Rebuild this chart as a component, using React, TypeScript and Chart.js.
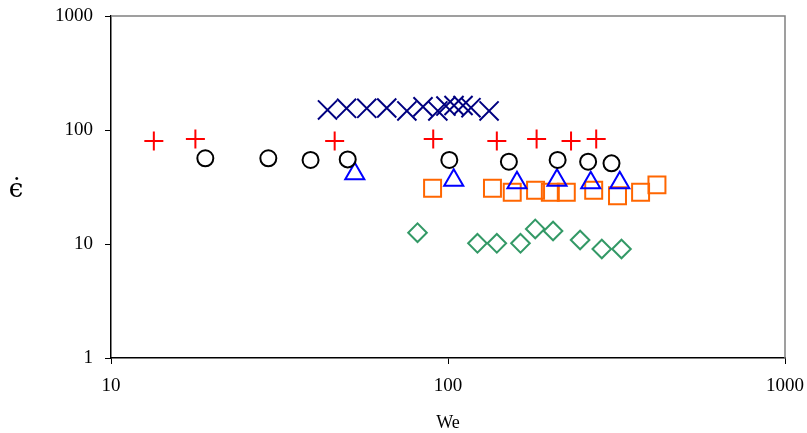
import React, { useEffect, useRef } from "react";
import { Chart, registerables } from "chart.js";

Chart.register(...registerables);

// Red plus series
const plusWe = [13.4, 17.8, 46.1, 90.4, 139.6, 183.2, 231.8, 275.3];
const plusEps = [80, 83.5, 80, 83.5, 80, 83.5, 80, 83.5];

// Black circle series
const circleWe = [19.05, 29.3, 39.1, 50.4, 100.9, 151.6, 211.5, 260.5, 305.6];
const circleEps = [56.5, 56.5, 54.6, 55.2, 54.6, 52.7, 54.6, 52.7, 51.0];

// Blue triangle series
const triWe = [52.9, 104, 160.2, 210.6, 265.2, 323.4];
const triEps = [41.4, 36.2, 34.5, 36.2, 34.5, 34.5];

// Orange square series
const squareWe = [90.0, 135.5, 155.1, 181.9, 201.2, 224.4, 270.6, 318.4, 372.8, 416.9];
const squareEps = [30.8, 30.8, 28.4, 29.6, 28.4, 28.4, 29.6, 26.5, 28.4, 33.0];

// Green diamond series
const diamondWe = [81.2, 122.3, 139.6, 164.1, 181.5, 205, 246.6, 286, 327.2];
const diamondEps = [12.56, 10.14, 10.14, 10.14, 13.55, 13.0, 10.84, 9.04, 9.04];

// Navy X series
const xWe = [43.9, 50.0, 57.4, 65.8, 75.5, 84.3, 93.3, 98.6, 104.2, 110.8, 117.0, 132.4];
const xEps = [150, 155, 155, 156, 147, 160, 147, 162, 164, 164, 157, 147];

const xTicks = [10, 100, 1000];
const yTicks = [1, 10, 100, 1000];
const xTitle = "We";
const yTitle = "\u03F5\u0307";

const pts = (xs: number[], ys: number[]) => xs.map((x, i) => ({ x, y: ys[i] }));

const SERIF = "'Liberation Serif', 'Times New Roman', serif";

const decorPlugin = {
  id: "decor",
  afterDraw(chart: any) {
    const { ctx, chartArea } = chart;
    ctx.save();
    // gray frame top & right
    ctx.strokeStyle = "#808080";
    ctx.lineWidth = 1.5;
    ctx.beginPath();
    ctx.moveTo(chartArea.left, chartArea.top);
    ctx.lineTo(chartArea.right, chartArea.top);
    ctx.lineTo(chartArea.right, chartArea.bottom);
    ctx.stroke();
    // titles
    ctx.fillStyle = "#000";
    ctx.textAlign = "center";
    ctx.textBaseline = "middle";
    ctx.font = `18px ${SERIF}`;
    ctx.fillText(xTitle, (chartArea.left + chartArea.right) / 2, 423);
    ctx.font = `26px 'DejaVu Serif', serif`;
    ctx.textBaseline = "alphabetic";
    ctx.fillText(yTitle, 16, 197);
    ctx.restore();
  },
};

export default function App() {
  const ref = useRef<HTMLCanvasElement>(null);
  useEffect(() => {
    if (!ref.current) return;
    const common = { showLine: false, backgroundColor: "rgba(0,0,0,0)" };
    const chart = new Chart(ref.current, {
      type: "scatter",
      data: {
        datasets: [
          { ...common, label: "x", data: pts(xWe, xEps), pointStyle: "crossRot", pointRadius: 13.5, borderColor: "#000080", borderWidth: 2 },
          { ...common, label: "plus", data: pts(plusWe, plusEps), pointStyle: "cross", pointRadius: 9.5, borderColor: "#FF0000", borderWidth: 2 },
          { ...common, label: "circle", data: pts(circleWe, circleEps), pointStyle: "circle", pointRadius: 8, borderColor: "#000000", borderWidth: 2 },
          { ...common, label: "tri", data: pts(triWe, triEps), pointStyle: "triangle", pointRadius: 11, borderColor: "#0000FF", borderWidth: 2 },
          { ...common, label: "square", data: pts(squareWe, squareEps), pointStyle: "rect", pointRadius: 12, borderColor: "#FF6600", borderWidth: 2 },
          { ...common, label: "diamond", data: pts(diamondWe, diamondEps), pointStyle: "rectRot", pointRadius: 9.3, borderColor: "#339966", borderWidth: 2 },
        ],
      },
      options: {
        responsive: false,
        animation: false,
        layout: { padding: { left: 0, top: 16, right: 22, bottom: 0 } },
        plugins: { legend: { display: false }, tooltip: { enabled: false } },
        scales: {
          x: {
            type: "logarithmic",
            min: 10,
            max: 1000,
            afterBuildTicks: (s: any) => { s.ticks = xTicks.map((v) => ({ value: v })); },
            afterFit: (s: any) => { s.height = 75; s.paddingLeft = 0; s.paddingRight = 0; },
            ticks: {
              color: "#000",
              font: { family: SERIF, size: 19 },
              padding: 11,
              maxRotation: 0,
              autoSkip: false,
              callback: (v: any) => String(v),
            },
            grid: { drawOnChartArea: false, drawTicks: true, tickLength: 6, color: "#000", lineWidth: 1 },
            border: { display: true, color: "#000", width: 1.5 },
          },
          y: {
            type: "logarithmic",
            min: 1,
            max: 1000,
            afterBuildTicks: (s: any) => { s.ticks = yTicks.map((v) => ({ value: v })); },
            afterFit: (s: any) => { s.width = 111; s.paddingTop = 0; s.paddingBottom = 0; },
            ticks: {
              color: "#000",
              font: { family: SERIF, size: 19 },
              padding: 12,
              autoSkip: false,
              callback: (v: any) => String(v),
            },
            grid: { drawOnChartArea: false, drawTicks: true, tickLength: 6, color: "#000", lineWidth: 1 },
            border: { display: true, color: "#000", width: 1.5 },
          },
        },
      },
      plugins: [decorPlugin],
    } as any);
    return () => chart.destroy();
  }, []);
  return (
    <canvas
      ref={ref}
      width={807}
      height={433}
      style={{ position: "absolute", left: 0, top: 0, display: "block" }}
    />
  );
}
